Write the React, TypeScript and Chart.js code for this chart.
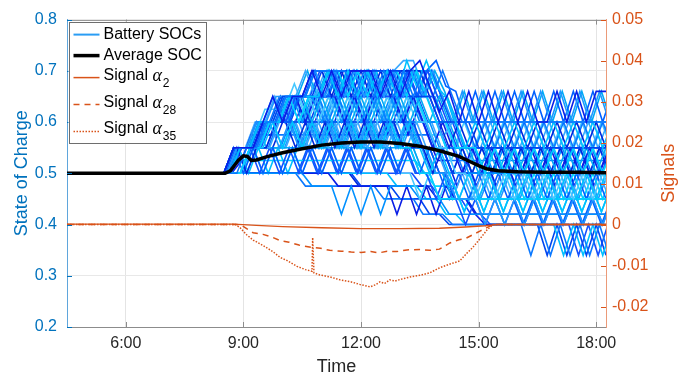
import React, { useEffect, useRef } from "react";
import { Chart, registerables } from "chart.js";

Chart.register(...registerables);

// ---------------- data ----------------
// time in minutes after midnight
const X_TICKS = [360, 540, 720, 900, 1080];
const X_TICK_LABELS = ["6:00", "9:00", "12:00", "15:00", "18:00"];
const SOC_TICKS = [0.2, 0.3, 0.4, 0.5, 0.6, 0.7, 0.8];
const SOC_TICK_LABELS = ["0.2", "0.3", "0.4", "0.5", "0.6", "0.7", "0.8"];
const SIGNAL_TICKS = [-0.02, -0.01, 0, 0.01, 0.02, 0.03, 0.04, 0.05];
const SIGNAL_TICK_LABELS = ["-0.02", "-0.01", "0", "0.01", "0.02", "0.03", "0.04", "0.05"];

const TIMES_A = [270, 510, 525, 540, 555, 570, 585, 600, 615, 630, 645, 660, 675, 690, 705, 720, 735, 750, 765, 780, 795, 810, 825, 840, 855, 870, 885, 900, 915, 930, 945, 960, 975, 990, 1005, 1020, 1035, 1050, 1065, 1080, 1095];
const TIMES_B = [270, 515, 530, 545, 560, 575, 590, 605, 620, 635, 650, 665, 680, 695, 710, 725, 740, 755, 770, 785, 800, 815, 830, 845, 860, 875, 890, 905, 920, 935, 950, 965, 980, 995, 1010, 1025, 1040, 1055, 1070, 1085, 1100];
const TIMES_C = [270, 520, 535, 550, 565, 580, 595, 610, 625, 640, 655, 670, 685, 700, 715, 730, 745, 760, 775, 790, 805, 820, 835, 850, 865, 880, 895, 910, 925, 940, 955, 970, 985, 1000, 1015, 1030, 1045, 1060, 1075, 1090, 1105];
const TIMES_D = [270, 513, 528, 543, 558, 573, 588, 603, 618, 633, 648, 663, 678, 693, 708, 723, 738, 753, 768, 783, 798, 813, 828, 843, 858, 873, 888, 903, 918, 933, 948, 963, 978, 993, 1008, 1023, 1038, 1053, 1068, 1083, 1098];
const TIMES_E = [270, 518, 533, 548, 563, 578, 593, 608, 623, 638, 653, 668, 683, 698, 713, 728, 743, 758, 773, 788, 803, 818, 833, 848, 863, 878, 893, 908, 923, 938, 953, 968, 983, 998, 1013, 1028, 1043, 1058, 1073, 1088, 1103];
const TIMES_F = [270, 522, 537, 552, 567, 582, 597, 612, 627, 642, 657, 672, 687, 702, 717, 732, 747, 762, 777, 792, 807, 822, 837, 852, 867, 882, 897, 912, 927, 942, 957, 972, 987, 1002, 1017, 1032, 1047, 1062, 1077, 1092, 1107];

// battery state of charge, percent
const SOC_T1 = [50, 50,55,55,55,60,65,60,65,65,70, 65,70,65,70,70,70,65,70,65,70, 72,67,62,66,60,66,60,66,60,66, 60,66,60,60,66,60,66,60,66,66];
const SOC_T2 = [50, 50,50,55,55,60,60,65,65,65,70, 70,70,70,65,70,65,70,65,70,65, 70,65,70,65,60,60,60,60,60,60, 60,60,60,60,60,60,60,60,60,60];
const SOC_T3 = [50, 50,55,55,60,60,60,65,65,65,65, 70,65,70,65,70,65,70,65,72,67, 72,67,65,60,55,60,55,60,55,60, 55,60,55,60,55,60,55,60,55,60];
const SOC_T4 = [50, 50,55,55,55,60,60,65,65,65,65, 70,70,70,70,70,70,70,70,70,65, 65,65,60,60,60,60,55,55,55,55, 55,55,55,55,55,55,55,55,55,55];
const SOC_T5 = [50, 50,55,55,60,60,65,65,65,65,70, 65,70,65,70,65,70,65,70,65,70, 65,70,65,60,66,60,66,60,66,60, 66,60,66,60,66,60,66,60,66,60];
const SOC_T6 = [50, 50,50,55,55,60,60,65,60,65,65, 70,70,65,70,65,70,70,70,65,70, 65,60,60,55,55,55,50,55,50,55, 50,55,50,55,50,55,50,55,50,55];
const SOC_T7 = [50, 50,55,55,55,60,60,60,65,65,70, 70,65,70,65,70,65,70,65,70,70, 70,65,60,55,60,55,60,55,60,55, 60,55,60,55,60,55,60,55,60,55];
const SOC_T8 = [50, 50,55,55,55,60,60,65,65,70,65, 70,70,70,70,65,70,65,70,72,72, 67,62,57,60,60,60,60,60,60,60, 60,60,60,60,60,60,60,60,60,60];
const SOC_T9 = [50, 50,55,55,55,60,60,60,65,65,65, 65,70,70,70,70,65,70,65,70,65, 70,72,67,66,60,66,60,66,60,66, 60,66,60,66,60,66,60,66,60,66];
const SOC_M1 = [50, 50,55,55,55,60,60,65,65,65,60, 65,60,65,60,65,60,65,60,65,60, 65,60,65,60,55,55,50,55,50,55, 50,55,50,55,50,55,50,55,50,55];
const SOC_M2 = [50, 50,55,55,60,60,60,60,65,65,65, 65,65,65,65,65,65,65,65,65,65, 65,65,60,60,55,55,55,55,55,55, 55,55,55,55,55,55,55,55,55,55];
const SOC_M3 = [50, 50,50,55,55,60,60,65,60,65,60, 65,60,65,60,65,60,65,60,65,60, 60,55,55,50,50,45,50,45,50,45, 50,45,50,45,50,45,50,45,50,45];
const SOC_M4 = [50, 50,55,55,55,60,65,60,65,60,65, 60,65,60,65,60,65,60,65,60,65, 60,60,55,55,55,50,50,50,50,50, 50,50,50,50,50,50,50,50,50,50];
const SOC_M5 = [50, 50,55,55,55,60,60,65,65,60,65, 65,65,60,65,60,65,65,65,60,65, 60,55,60,55,50,55,50,55,50,55, 50,55,50,55,50,55,50,55,50,55];
const SOC_M6 = [50, 50,55,55,60,60,65,65,65,65,65, 60,65,60,65,60,65,60,65,60,60, 60,60,60,60,60,55,60,55,60,55, 60,55,60,55,60,55,60,55,60,55];
const SOC_D1 = [50, 50,55,55,55,55,60,55,60,55,60, 55,60,55,60,55,60,55,60,55,60, 55,50,55,50,45,50,45,50,45,50, 45,50,45,50,45,50,45,50,45,50];
const SOC_D2 = [50, 50,55,55,55,60,60,60,60,60,60, 60,60,60,60,60,60,60,60,60,60, 55,55,55,50,50,50,50,50,50,50, 50,50,50,50,50,50,50,50,50,50];
const SOC_D3 = [50, 50,50,55,55,60,55,60,55,60,55, 60,55,60,55,60,55,60,55,60,55, 55,50,50,45,45,45,40,45,40,45, 40,45,40,45,40,45,40,45,40,45];
const SOC_D4 = [50, 50,55,55,55,60,60,55,60,55,60, 55,60,60,60,55,60,55,60,55,55, 50,50,45,45,45,45,45,45,45,45, 45,45,45,45,45,45,45,45,45,45];
const SOC_D5 = [50, 50,55,50,55,55,60,60,55,60,55, 60,55,60,55,60,55,60,60,55,55, 55,50,55,50,55,50,55,50,55,50, 55,50,55,50,55,50,55,50,55,50];
const SOC_D6 = [50, 50,55,55,55,55,60,60,60,55,60, 55,60,55,60,55,60,55,60,55,60, 55,55,50,50,50,45,45,45,40,40, 40,40,40,40,40,40,40,40,40,40];
const SOC_L1 = [50, 50,55,50,55,50,55,50,55,50,55, 50,55,50,55,50,55,50,55,50,55, 50,55,50,45,50,45,50,45,50,45, 50,45,50,45,50,45,50,45,50,45];
const SOC_L2 = [50, 50,55,55,55,55,55,55,55,55,55, 55,55,55,55,55,55,55,55,55,55, 50,50,50,45,45,45,45,45,45,45, 45,45,45,45,45,45,45,45,45,45];
const SOC_L3 = [50, 50,50,55,50,55,50,55,50,55,50, 55,50,55,50,55,50,55,50,55,50, 50,45,50,45,40,45,40,45,40,45, 40,45,40,45,40,45,40,45,40,45];
const SOC_L4 = [50, 50,50,50,55,50,55,50,55,50,55, 50,55,50,55,50,55,50,55,50,50, 45,50,45,50,45,50,45,50,45,50, 45,50,45,50,45,50,45,50,45,50];
const SOC_Z1 = [50, 50,50,50,50,50,50,50,50,50,47.5, 47.5,47.5,42,47.5,42,47.5,42,47.5,47.5,47.5, 45,45,45,42,42,42,42,42,42,42, 42,42,42,42,42,42,42,42,42,42];
const SOC_Z2 = [50, 50,50,50,50,50,50,50,50,50,50, 50,47.5,47.5,47.5,47.5,47.5,47.5,42,47.5,42, 47.5,42,47.5,45,45,42,40,40,40,40, 40,40,40,40,40,40,40,40,40,40];
const SOC_Z3 = [50, 50,50,50,50,50,50,50,50,47.5,47.5, 47.5,47.5,47.5,47.5,47.5,47.5,45,45,45,45, 42,42,42,40,40,40,40,40,40,40, 40,34,40,34,40,34,40,34,40,34];
const SOC_Z4 = [50, 50,50,50,50,50,50,50,50,50,50, 50,50,50,50,50,50,50,47.5,47.5,47.5, 45,45,42,42,40,40,40,40,40,40, 40,40,40,40,34,40,34,40,34,40];
const SOC_Z5 = [50, 50,50,50,50,50,50,50,50,50,50, 50,50,50,50,47.5,47.5,47.5,47.5,45,45, 45,42,42,40,40,40,40,40,40,40, 40,40,40,34,40,34,40,34,40,34];
const SOC_E1 = [50, 50,55,55,60,55,60,60,65,60,65, 60,65,60,65,60,65,60,65,60,65, 60,55,55,50,55,50,55,50,55,50, 55,50,55,50,55,50,55,50,55,50];
const SOC_E2 = [50, 50,55,55,55,60,60,60,60,65,65, 65,65,60,65,60,65,60,65,65,65, 60,60,55,55,55,55,50,50,50,50, 45,50,45,50,45,50,45,50,45,50];
const SOC_E3 = [50, 50,55,55,55,55,55,60,60,60,60, 55,60,55,60,55,60,55,60,60,60, 55,55,50,50,50,50,50,50,50,50, 50,50,50,50,50,50,50,50,50,50];
const SOC_E4 = [50, 50,50,50,55,55,55,55,60,55,60, 55,60,55,60,55,60,55,60,55,55, 50,50,50,45,50,45,50,45,50,45, 50,45,50,45,50,45,50,45,50,45];
const SOC_N1 = [50, 50,55,55,55,60,60,65,65,65,70, 65,70,65,70,65,70,65,70,65,70, 65,70,65,60,60,60,60,60,60,60, 60,60,60,60,60,60,60,60,60,60];
const SOC_N2 = [50, 50,55,55,60,60,60,65,65,70,65, 70,65,70,65,70,65,70,70,70,70, 65,70,66,60,66,60,66,60,66,60, 66,60,66,60,66,60,66,60,66,60];
const SOC_N3 = [50, 50,55,55,55,60,60,65,65,65,70, 70,65,70,65,70,65,70,65,70,65, 70,65,60,55,55,55,55,55,55,55, 55,55,55,55,55,55,55,55,55,55];
const SOC_N4 = [50, 50,55,55,57.5,62.5,62.5,62.5,67.5,62.5,67.5, 62.5,67.5,62.5,67.5,62.5,67.5,62.5,67.5,62.5,67.5, 62.5,57.5,57.5,52.5,57.5,52.5,57.5,52.5,57.5,52.5, 57.5,52.5,57.5,52.5,57.5,52.5,57.5,52.5,57.5,52.5];
const SOC_N5 = [50, 50,55,55,55,60,60,60,65,65,65, 65,70,65,70,65,70,65,70,65,70, 65,65,60,60,55,55,55,50,55,50, 55,50,55,50,55,50,55,50,55,50];
const SOC_N6 = [50, 50,52.5,57.5,57.5,57.5,62.5,57.5,62.5,57.5,62.5, 57.5,62.5,57.5,62.5,57.5,62.5,57.5,62.5,57.5,62.5, 57.5,52.5,52.5,47.5,52.5,47.5,52.5,47.5,52.5,47.5, 52.5,47.5,52.5,47.5,52.5,47.5,52.5,47.5,52.5,47.5];
const SOC_N7 = [50, 50,52.5,52.5,57.5,57.5,57.5,57.5,57.5,57.5,57.5, 57.5,57.5,57.5,57.5,57.5,57.5,57.5,57.5,57.5,57.5, 57.5,57.5,52.5,52.5,52.5,52.5,52.5,52.5,52.5,52.5, 52.5,52.5,52.5,52.5,52.5,52.5,52.5,52.5,52.5,52.5];
const SOC_N8 = [50, 50,55,50,55,50,55,50,55,55,55, 60,55,60,55,60,55,60,55,60,55, 55,50,50,47.5,42.5,47.5,42.5,47.5,42.5,47.5, 42.5,47.5,42.5,47.5,42.5,47.5,42.5,47.5,42.5,47.5];
const SOC_N9 = [50, 50,55,55,60,60,65,60,65,60,65, 65,65,65,65,65,65,65,65,65,65, 60,60,55,55,55,55,55,55,55,55, 55,55,55,55,55,55,55,55,55,55];
const SOC_N10 = [50, 50,55,55,55,55,55,55,60,55,60, 55,60,55,60,55,60,55,60,55,60, 55,50,50,50,50,50,45,50,45,50, 45,50,45,50,45,50,45,50,45,50];
const SOC_N11 = [50, 50,52.5,52.5,52.5,52.5,52.5,52.5,52.5,52.5,52.5, 52.5,52.5,52.5,52.5,52.5,52.5,52.5,52.5,52.5,52.5, 50,47.5,47.5,47.5,42.5,47.5,42.5,47.5,42.5,47.5, 42.5,47.5,42.5,47.5,42.5,47.5,42.5,47.5,42.5,47.5];
const SOC_N12 = [50, 50,50,50,50,50,50,50,50,50,50, 50,50,50,47.5,47.5,47.5,47.5,47.5,47.5,47.5, 47.5,45,45,45,45,42,42,42,42,42, 42,42,42,42,42,42,42,42,42,42];
const SOC_N13 = [50, 50,55,55,60,60,65,60,65,60,65, 60,65,60,65,60,65,60,65,60,65, 60,60,55,55,55,55,55,60,55,60, 55,60,55,60,55,60,55,60,55,60];
const SOC_N14 = [50, 50,50,50,50,50,50,50,50,55,50, 55,50,55,50,55,50,55,50,55,50, 50,50,50,45,45,45,45,45,45,45, 40,45,40,45,40,45,40,45,40,45];
const SOC_N15 = [50, 50,55,55,55,60,60,60,60,65,65, 70,65,70,65,70,65,70,65,70,70, 70,65,65,60,60,60,60,60,60,60, 60,60,60,60,60,60,60,60,60,60];
const SOC_N16 = [50, 50,50,50,50,50,50,50,50,50,50, 50,50,50,50,50,50,50,50,50,50, 47.5,47.5,45,45,45,42,42,40,40,40, 40,40,40,40,40,40,34,40,34,40];
const SOC_N17 = [50, 50,55,55,55,60,60,60,65,60,65, 60,65,60,65,60,65,60,65,60,65, 60,60,60,55,60,55,60,55,60,55, 60,55,60,55,60,55,60,55,60,55];
const SOC_N18 = [50, 50,50,55,55,55,55,60,55,60,55, 60,55,60,55,60,55,60,55,60,55, 55,55,50,50,50,50,50,50,50,50, 50,50,50,50,50,50,50,50,50,50];
const SOC_N19 = [50, 50,55,55,55,60,60,60,60,60,65, 65,65,70,70,70,70,70,70,70,70, 70,70,65,60,60,60,60,60,60,60, 60,60,60,60,60,60,60,60,60,60];
const SOC_N20 = [50, 50,55,55,55,55,60,60,60,60,60, 60,60,60,60,60,60,60,60,60,60, 60,55,55,55,50,55,50,55,50,55, 50,55,50,55,50,55,50,55,50,55];

const BATTERIES = [
  { t: TIMES_A, v: SOC_T1 }, { t: TIMES_B, v: SOC_T2 }, { t: TIMES_C, v: SOC_T3 },
  { t: TIMES_A, v: SOC_T4 }, { t: TIMES_B, v: SOC_T5 }, { t: TIMES_C, v: SOC_T6 },
  { t: TIMES_A, v: SOC_T7 }, { t: TIMES_B, v: SOC_T8 }, { t: TIMES_C, v: SOC_T9 },
  { t: TIMES_A, v: SOC_M1 }, { t: TIMES_B, v: SOC_M2 }, { t: TIMES_C, v: SOC_M3 },
  { t: TIMES_A, v: SOC_M4 }, { t: TIMES_B, v: SOC_M5 }, { t: TIMES_C, v: SOC_M6 },
  { t: TIMES_A, v: SOC_D1 }, { t: TIMES_B, v: SOC_D2 }, { t: TIMES_C, v: SOC_D3 },
  { t: TIMES_A, v: SOC_D4 }, { t: TIMES_B, v: SOC_D5 }, { t: TIMES_C, v: SOC_D6 },
  { t: TIMES_A, v: SOC_L1 }, { t: TIMES_B, v: SOC_L2 }, { t: TIMES_C, v: SOC_L3 },
  { t: TIMES_A, v: SOC_L4 }, { t: TIMES_A, v: SOC_Z1 }, { t: TIMES_C, v: SOC_Z2 },
  { t: TIMES_B, v: SOC_Z3 }, { t: TIMES_C, v: SOC_Z4 }, { t: TIMES_A, v: SOC_Z5 },
  { t: TIMES_B, v: SOC_E1 }, { t: TIMES_C, v: SOC_E2 }, { t: TIMES_A, v: SOC_E3 },
  { t: TIMES_B, v: SOC_E4 },
  { t: TIMES_D, v: SOC_N1 }, { t: TIMES_E, v: SOC_N2 }, { t: TIMES_F, v: SOC_N3 },
  { t: TIMES_D, v: SOC_N4 }, { t: TIMES_E, v: SOC_N5 }, { t: TIMES_F, v: SOC_N6 },
  { t: TIMES_D, v: SOC_N7 }, { t: TIMES_E, v: SOC_N8 }, { t: TIMES_F, v: SOC_N9 },
  { t: TIMES_D, v: SOC_N10 }, { t: TIMES_E, v: SOC_N11 }, { t: TIMES_F, v: SOC_N12 },
  { t: TIMES_D, v: SOC_N13 }, { t: TIMES_E, v: SOC_N14 }, { t: TIMES_F, v: SOC_N15 },
  { t: TIMES_D, v: SOC_N16 }, { t: TIMES_E, v: SOC_N17 }, { t: TIMES_F, v: SOC_N18 },
  { t: TIMES_D, v: SOC_N19 }, { t: TIMES_E, v: SOC_N20 },
];

const AVG_TIMES = [270, 512, 520, 532, 540, 546, 552, 560, 575, 600, 630, 660, 690, 720, 750, 780, 810, 840, 870, 888, 900, 912, 930, 960, 1000, 1050, 1095];
const AVG_SOC = [0.5, 0.5, 0.505, 0.525, 0.534, 0.533, 0.525, 0.526, 0.532, 0.54, 0.548, 0.555, 0.559, 0.561, 0.561, 0.558, 0.553, 0.544, 0.533, 0.522, 0.515, 0.509, 0.505, 0.503, 0.502, 0.502, 0.501];

const SIG2_TIMES = [270, 525, 560, 600, 660, 720, 780, 840, 880, 910, 930, 1095];
const SIG2 = [0.0001, 0.0001, -0.0002, -0.0005, -0.0008, -0.001, -0.001, -0.0009, -0.0006, -0.0003, 0, 0];

const SIG28_TIMES = [270, 530, 538, 555, 570, 584, 596, 610, 625, 645, 658, 672, 690, 705, 720, 735, 748, 760, 775, 790, 810, 825, 840, 856, 870, 880, 891, 902, 912, 922, 1095];
const SIG28 = [0, 0, -0.0003, -0.002, -0.0024, -0.0031, -0.0039, -0.0043, -0.005, -0.0056, -0.0058, -0.0063, -0.0065, -0.0067, -0.0068, -0.0066, -0.0069, -0.0065, -0.0066, -0.0062, -0.0061, -0.0063, -0.006, -0.0045, -0.0037, -0.0034, -0.0025, -0.0016, -0.0008, 0, 0];

const SIG35_TIMES = [270, 528, 535, 545, 555, 570, 585, 596, 607, 622, 635, 645, 646, 648, 657, 673, 688, 705, 718, 734, 742, 749, 756, 764, 772, 780, 795, 810, 825, 841, 855, 871, 882, 891, 902, 913, 922, 1095];
const SIG35 = [0, 0, -0.0008, -0.0025, -0.0038, -0.0051, -0.0066, -0.008, -0.0088, -0.0102, -0.011, -0.0114, -0.0032, -0.0118, -0.0123, -0.0128, -0.0135, -0.014, -0.0146, -0.0152, -0.0147, -0.014, -0.0144, -0.0135, -0.0138, -0.0134, -0.0128, -0.0124, -0.0118, -0.0105, -0.0097, -0.0089, -0.007, -0.0056, -0.0035, -0.0013, 0, 0];

// ---------------- styles ----------------
const FONT = '"Liberation Sans", Arial, Helvetica, sans-serif';
const BLUE = "#0072BD";
const ORANGE = "#D95319";
const BATTERY_PALETTE = ["#0a1ee6", "#0a78ff", "#00c0ff", "#0046f0", "#1e96ff", "#00d2ff", "#0028dc", "#3aa8ff", "#0060ff", "#00aaf5", "#1450ff", "#46c8ff", "#0090ff"];
const LEGEND_BATTERY_COLOR = "#2a9df4";

const pairs = (t: number[], v: number[], scale = 1) => t.map((x, i) => ({ x, y: v[i] * scale }));

const decorPlugin = {
  id: "decor",
  afterDraw(chart: any) {
    const { ctx, chartArea: a, scales } = chart;
    ctx.save();
    ctx.lineWidth = 1;
    ctx.strokeStyle = "#9a9a9a";
    ctx.beginPath();
    ctx.moveTo(a.left, Math.round(a.top) + 0.5);
    ctx.lineTo(a.right, Math.round(a.top) + 0.5);
    ctx.stroke();
    ctx.strokeStyle = "#8c8c8c";
    X_TICKS.forEach((v) => {
      const px = Math.round(scales.x.getPixelForValue(v)) + 0.5;
      ctx.beginPath();
      ctx.moveTo(px, a.bottom); ctx.lineTo(px, a.bottom - 5);
      ctx.moveTo(px, a.top); ctx.lineTo(px, a.top + 5);
      ctx.stroke();
    });
    ctx.strokeStyle = BLUE;
    SOC_TICKS.forEach((v) => {
      const py = Math.round(scales.y.getPixelForValue(v)) + 0.5;
      ctx.beginPath(); ctx.moveTo(a.left, py); ctx.lineTo(a.left + 5, py); ctx.stroke();
    });
    ctx.strokeStyle = ORANGE;
    SIGNAL_TICKS.forEach((v) => {
      const py = Math.round(scales.y2.getPixelForValue(v)) + 0.5;
      ctx.beginPath(); ctx.moveTo(a.right, py); ctx.lineTo(a.right - 5, py); ctx.stroke();
    });

    const cy = (a.top + a.bottom) / 2;
    ctx.font = `18px ${FONT}`;
    ctx.textAlign = "center";
    ctx.textBaseline = "middle";
    ctx.fillStyle = BLUE;
    ctx.save(); ctx.translate(a.left - 45, cy); ctx.rotate(-Math.PI / 2); ctx.fillText("State of Charge", 0, 0); ctx.restore();
    ctx.fillStyle = ORANGE;
    ctx.save(); ctx.translate(a.right + 63, cy); ctx.rotate(-Math.PI / 2); ctx.fillText("Signals", 0, 0); ctx.restore();
    ctx.fillStyle = "#262626";
    ctx.fillText("Time", (a.left + a.right) / 2, a.bottom + 40);

    const lx = a.left + 1.5, ly = a.top + 2, lw = 137, lh = 121;
    ctx.fillStyle = "#ffffff";
    ctx.fillRect(lx, ly, lw, lh);
    ctx.strokeStyle = "#6e6e6e";
    ctx.lineWidth = 1;
    ctx.strokeRect(Math.round(lx) + 0.5, Math.round(ly) + 0.5, lw, lh);
    const sx0 = lx + 5, sx1 = lx + 31, tx = lx + 35;
    const sample = (y: number, color: string, width: number, dash: number[]) => {
      ctx.save();
      ctx.strokeStyle = color; ctx.lineWidth = width; ctx.setLineDash(dash);
      ctx.beginPath(); ctx.moveTo(sx0, y); ctx.lineTo(sx1, y); ctx.stroke();
      ctx.restore();
    };
    ctx.textAlign = "left";
    ctx.textBaseline = "middle";
    ctx.fillStyle = "#000";
    ctx.font = `16px ${FONT}`;
    sample(ly + 13, LEGEND_BATTERY_COLOR, 2, []);
    ctx.fillText("Battery SOCs", tx, ly + 13);
    sample(ly + 34, "#000", 3.5, []);
    ctx.fillText("Average SOC", tx, ly + 34);
    const signal = (y: number, sub: string) => {
      ctx.font = `16px ${FONT}`;
      ctx.fillText("Signal", tx, y);
      let w = ctx.measureText("Signal ").width;
      ctx.font = `italic 18px "Liberation Serif", "DejaVu Serif", serif`;
      ctx.fillText("\u03b1", tx + w, y + 1);
      w += ctx.measureText("\u03b1").width + 1;
      ctx.font = `12px ${FONT}`;
      ctx.fillText(sub, tx + w, y + 8);
    };
    sample(ly + 56, ORANGE, 1.5, []);
    signal(ly + 54, "2");
    sample(ly + 83, ORANGE, 1.5, [6, 5]);
    signal(ly + 81, "28");
    sample(ly + 110, ORANGE, 1.5, [1.5, 1.5]);
    signal(ly + 107, "35");
    ctx.restore();
  },
};

export default function App() {
  const ref = useRef<HTMLCanvasElement | null>(null);
  useEffect(() => {
    if (!ref.current) return;
    const batteryDatasets = BATTERIES.map((b, i) => ({
      label: "Battery SOCs",
      data: pairs(b.t, b.v, 0.01),
      borderColor: BATTERY_PALETTE[i % BATTERY_PALETTE.length],
      borderWidth: 1.6,
      pointRadius: 0,
      yAxisID: "y",
      order: 10,
    }));
    const chart = new Chart(ref.current, {
      type: "line",
      data: {
        datasets: [
          { label: "Average SOC", data: pairs(AVG_TIMES, AVG_SOC), borderColor: "#000", borderWidth: 3.5, pointRadius: 0, yAxisID: "y", order: 0 },
          { label: "Signal a2", data: pairs(SIG2_TIMES, SIG2), borderColor: ORANGE, borderWidth: 1.4, pointRadius: 0, yAxisID: "y2", order: 1 },
          { label: "Signal a28", data: pairs(SIG28_TIMES, SIG28), borderColor: ORANGE, borderWidth: 1.5, borderDash: [6, 5], pointRadius: 0, yAxisID: "y2", order: 1 },
          { label: "Signal a35", data: pairs(SIG35_TIMES, SIG35), borderColor: ORANGE, borderWidth: 1.5, borderDash: [1.5, 1.5], pointRadius: 0, yAxisID: "y2", order: 1 },
          ...batteryDatasets,
        ] as any,
      },
      options: {
        animation: false,
        responsive: false,
        devicePixelRatio: 1,
        events: [],
        layout: { padding: { top: 12, left: 0, right: 0, bottom: 0 } },
        elements: { line: { tension: 0 }, point: { radius: 0 } },
        plugins: { legend: { display: false }, tooltip: { enabled: false } },
        scales: {
          x: {
            type: "linear",
            min: 270,
            max: 1095,
            afterBuildTicks: (s: any) => { s.ticks = X_TICKS.map((v) => ({ value: v })); },
            afterFit: (s: any) => { s.height = 52; },
            ticks: { autoSkip: false, maxRotation: 0, padding: 7, color: "#262626", font: { family: FONT, size: 16 }, callback: (_v: any, i: number) => X_TICK_LABELS[i] },
            grid: { color: "#e4e4e4", drawTicks: false },
            border: { color: "#8c8c8c" },
          },
          y: {
            position: "left",
            min: 0.2,
            max: 0.8,
            afterBuildTicks: (s: any) => { s.ticks = SOC_TICKS.map((v) => ({ value: v })); },
            afterFit: (s: any) => { s.width = 67; },
            ticks: { padding: 10, color: BLUE, font: { family: FONT, size: 16 }, callback: (_v: any, i: number) => SOC_TICK_LABELS[i] },
            grid: { color: "#e8e8e8", drawTicks: false },
            border: { color: "#5fa6dc" },
          },
          y2: {
            position: "right",
            min: -0.025,
            max: 0.05,
            afterBuildTicks: (s: any) => { s.ticks = SIGNAL_TICKS.map((v) => ({ value: v })); },
            afterFit: (s: any) => { s.width = 91; },
            ticks: { padding: 6, color: ORANGE, font: { family: FONT, size: 16 }, callback: (_v: any, i: number) => SIGNAL_TICK_LABELS[i] },
            grid: { display: false, drawTicks: false },
            border: { color: "#eb9a78" },
          },
        },
      } as any,
      plugins: [decorPlugin],
    });
    return () => chart.destroy();
  }, []);
  return (
    <div style={{ position: "fixed", left: 0, top: 0, width: 697, height: 379, background: "#fff" }}>
      <canvas ref={ref} width={697} height={379} style={{ display: "block", width: 697, height: 379 }} />
    </div>
  );
}
